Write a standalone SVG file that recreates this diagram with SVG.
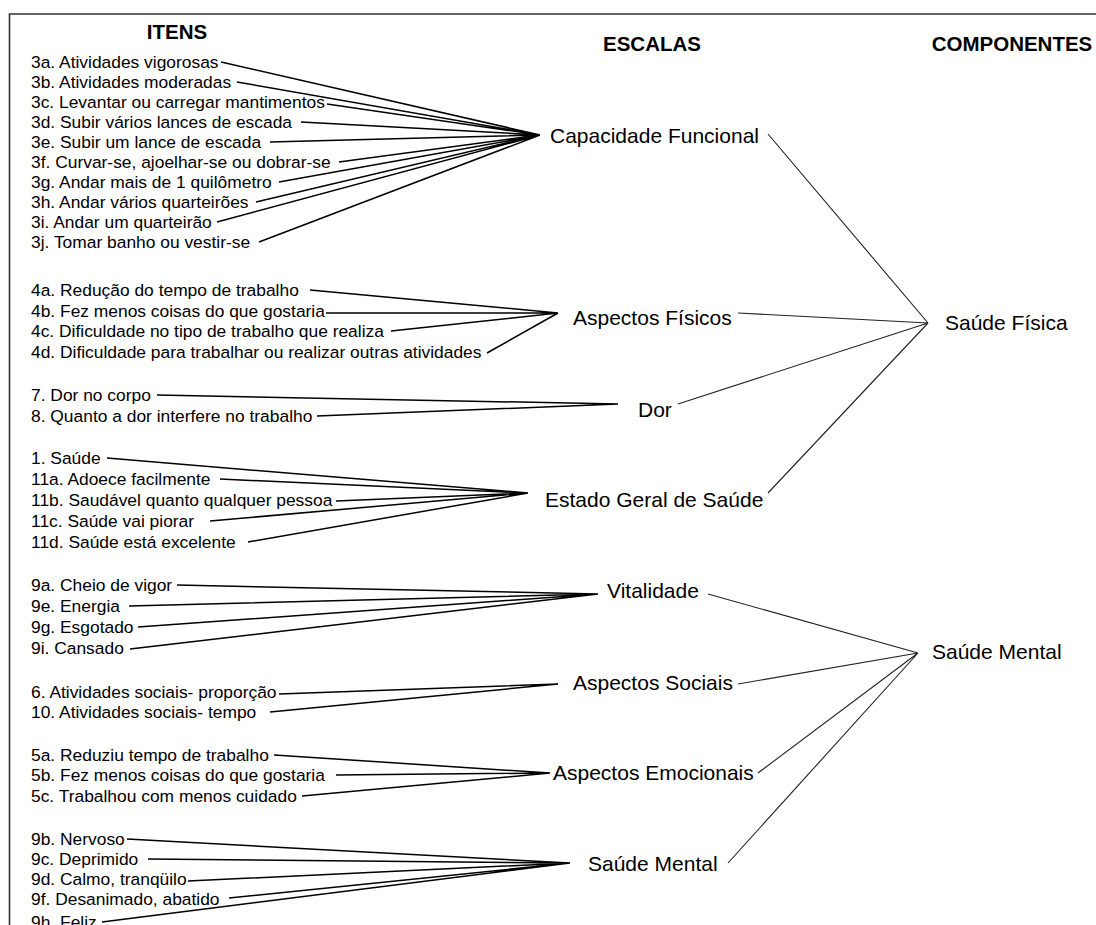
<svg xmlns="http://www.w3.org/2000/svg" width="1096" height="925" viewBox="0 0 1096 925">
<style>
text{font-family:"Liberation Sans",Arial,sans-serif;fill:#000}
.it{font-size:17.4px}
.sc{font-size:21px}
.hd{font-size:20.5px;font-weight:bold;text-anchor:middle}
.l1{stroke:#000;stroke-width:1.5;fill:none}
.l2{stroke:#222;stroke-width:1.1;fill:none}
.bd{stroke:#333;stroke-width:1.6;fill:none}
</style>
<rect x="0" y="0" width="1096" height="925" fill="#fff"/>
<path class="bd" d="M9.5,925 V14 H1096"/>
<g id="headers">
<text class="hd" x="177" y="38.5">ITENS</text>
<text class="hd" x="652" y="51">ESCALAS</text>
<text class="hd" x="1012" y="51">COMPONENTES</text>
</g>
<g id="items">
<g id="i3a"><text class="it" x="31" y="68">3a. Atividades vigorosas</text></g>
<g id="i3b"><text class="it" x="31" y="88">3b. Atividades moderadas</text></g>
<g id="i3c"><text class="it" x="31" y="108">3c. Levantar ou carregar mantimentos</text></g>
<g id="i3d"><text class="it" x="31" y="128">3d. Subir vários lances de escada</text></g>
<g id="i3e"><text class="it" x="31" y="148">3e. Subir um lance de escada</text></g>
<g id="i3f"><text class="it" x="31" y="168">3f. Curvar-se, ajoelhar-se ou dobrar-se</text></g>
<g id="i3g"><text class="it" x="31" y="188">3g. Andar mais de 1 quilômetro</text></g>
<g id="i3h"><text class="it" x="31" y="208">3h. Andar vários quarteirões</text></g>
<g id="i3i"><text class="it" x="31" y="228">3i. Andar um quarteirão</text></g>
<g id="i3j"><text class="it" x="31" y="248">3j. Tomar banho ou vestir-se</text></g>
<g id="i4a"><text class="it" x="31" y="296">4a. Redução do tempo de trabalho</text></g>
<g id="i4b"><text class="it" x="31" y="317">4b. Fez menos coisas do que gostaria</text></g>
<g id="i4c"><text class="it" x="31" y="337">4c. Dificuldade no tipo de trabalho que realiza</text></g>
<g id="i4d"><text class="it" x="31" y="358">4d. Dificuldade para trabalhar ou realizar outras atividades</text></g>
<g id="i7"><text class="it" x="31" y="401">7. Dor no corpo</text></g>
<g id="i8"><text class="it" x="31" y="422">8. Quanto a dor interfere no trabalho</text></g>
<g id="i1"><text class="it" x="31" y="464">1. Saúde</text></g>
<g id="i11a"><text class="it" x="31" y="485">11a. Adoece facilmente</text></g>
<g id="i11b"><text class="it" x="31" y="506">11b. Saudável quanto qualquer pessoa</text></g>
<g id="i11c"><text class="it" x="31" y="527">11c. Saúde vai piorar</text></g>
<g id="i11d"><text class="it" x="31" y="548">11d. Saúde está excelente</text></g>
<g id="i9a"><text class="it" x="31" y="591">9a. Cheio de vigor</text></g>
<g id="i9e"><text class="it" x="31" y="612">9e. Energia</text></g>
<g id="i9g"><text class="it" x="31" y="633">9g. Esgotado</text></g>
<g id="i9i"><text class="it" x="31" y="654">9i. Cansado</text></g>
<g id="i6"><text class="it" x="31" y="698">6. Atividades sociais- proporção</text></g>
<g id="i10"><text class="it" x="31" y="718">10. Atividades sociais- tempo</text></g>
<g id="i5a"><text class="it" x="31" y="761">5a. Reduziu tempo de trabalho</text></g>
<g id="i5b"><text class="it" x="31" y="781">5b. Fez menos coisas do que gostaria</text></g>
<g id="i5c"><text class="it" x="31" y="802">5c. Trabalhou com menos cuidado</text></g>
<g id="i9b"><text class="it" x="31" y="845">9b. Nervoso</text></g>
<g id="i9c"><text class="it" x="31" y="865">9c. Deprimido</text></g>
<g id="i9d"><text class="it" x="31" y="885">9d. Calmo, tranqüilo</text></g>
<g id="i9f"><text class="it" x="31" y="905">9f. Desanimado, abatido</text></g>
<g id="i9h"><text class="it" x="31" y="928">9h. Feliz</text></g>
</g>
<g id="scales">
<g id="s-cf"><text class="sc" x="550" y="143">Capacidade Funcional</text></g>
<g id="s-af"><text class="sc" x="573" y="325">Aspectos Físicos</text></g>
<g id="s-dor"><text class="sc" x="638" y="417">Dor</text></g>
<g id="s-eg"><text class="sc" x="545" y="507">Estado Geral de Saúde</text></g>
<g id="s-vt"><text class="sc" x="607" y="598">Vitalidade</text></g>
<g id="s-as"><text class="sc" x="573" y="690">Aspectos Sociais</text></g>
<g id="s-ae"><text class="sc" x="553" y="780">Aspectos Emocionais</text></g>
<g id="s-sm"><text class="sc" x="588" y="871">Saúde Mental</text></g>
</g>
<g id="components">
<g id="c-sf"><text class="sc" x="945" y="330">Saúde Física</text></g>
<g id="c-sm"><text class="sc" x="932" y="659">Saúde Mental</text></g>
</g>
<g id="connectors">
<path class="l1" d="M221,62L540,135M237,82L540,135M327,104L540,135M301,122L540,135M270,142L540,135M339,162L540,135M279,182L540,135M256,202L540,135M217,222L540,135M259,242L540,135"/>
<path class="l1" d="M310,290L558,313M326,313L558,313M391,331L558,313M487,353L558,313"/>
<path class="l1" d="M157,395L618,404M317,416L618,404"/>
<path class="l1" d="M107,458L528,493M220,479L528,493M336,501L528,493M210,521L528,493M248,542L528,493"/>
<path class="l1" d="M177,585L598,594M129,606L598,594M138,627L598,594M130,649L598,594"/>
<path class="l1" d="M279,694L558,684M270,712L558,684"/>
<path class="l1" d="M274,755L550,773M336,775L550,773M302,796L550,773"/>
<path class="l1" d="M127,839L570,863M148,859L570,863M188,881L570,863M229,898L570,863M102,922L570,863"/>
<path class="l2" d="M768,134L928,323M738,313L928,323M678,404L928,323M768,493L928,323"/>
<path class="l2" d="M708,594L918,653M738,684L918,653M758,773L918,653M728,863L918,653"/>
</g>
</svg>
